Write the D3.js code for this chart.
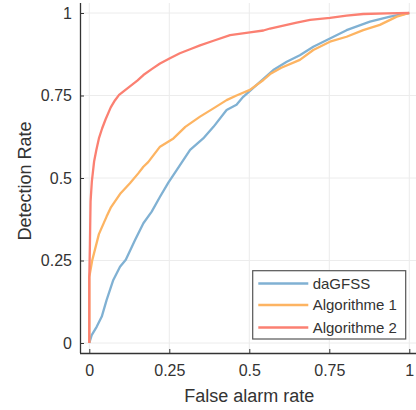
<!DOCTYPE html>
<html>
<head>
<meta charset="utf-8">
<script src="https://cdn.jsdelivr.net/npm/d3@7"></script>
<style>
  html, body { margin: 0; padding: 0; background: #fff; }
  svg { display: block; }
  text { font-family: "Liberation Sans", Arial, Helvetica, sans-serif; fill: #333; }
</style>
</head>
<body>
<svg id="chart" width="416" height="410"></svg>
<script>
const seriesNames = ["daGFSS", "Algorithme 1", "Algorithme 2"];
const seriesColors = ["#80b1d3", "#fdb462", "#fb8072"];

const dagfssFpr = [0, 0.0075, 0.023, 0.039, 0.054, 0.075, 0.096, 0.114, 0.143, 0.169, 0.195, 0.221, 0.247, 0.273, 0.315, 0.356, 0.388, 0.429, 0.46, 0.481, 0.523, 0.575, 0.617, 0.658, 0.7, 0.752, 0.804, 0.877, 0.94, 1];
const dagfssTpr = [0, 0.024, 0.049, 0.08, 0.13, 0.191, 0.231, 0.252, 0.312, 0.363, 0.398, 0.443, 0.486, 0.524, 0.585, 0.62, 0.655, 0.706, 0.722, 0.746, 0.782, 0.827, 0.852, 0.872, 0.898, 0.923, 0.948, 0.974, 0.989, 1];

const alg1Fpr = [0, 0, 0.009, 0.03, 0.054, 0.067, 0.098, 0.127, 0.153, 0.169, 0.184, 0.221, 0.263, 0.3, 0.346, 0.388, 0.429, 0.46, 0.502, 0.544, 0.565, 0.6, 0.658, 0.7, 0.752, 0.804, 0.856, 0.908, 0.961, 1];
const alg1Tpr = [0, 0.2, 0.25, 0.33, 0.383, 0.41, 0.454, 0.484, 0.514, 0.534, 0.548, 0.595, 0.62, 0.655, 0.686, 0.711, 0.736, 0.75, 0.767, 0.797, 0.815, 0.834, 0.858, 0.888, 0.913, 0.928, 0.948, 0.964, 0.989, 1];

const alg2Fpr = [0, 0, 0.002, 0.003, 0.004, 0.008, 0.015, 0.022, 0.03, 0.04, 0.051, 0.067, 0.08, 0.093, 0.11, 0.129, 0.15, 0.169, 0.195, 0.221, 0.252, 0.283, 0.315, 0.346, 0.388, 0.44, 0.502, 0.544, 0.565, 0.648, 0.69, 0.752, 0.804, 0.856, 0.93, 1];
const alg2Tpr = [0, 0.2, 0.3, 0.37, 0.43, 0.49, 0.55, 0.585, 0.62, 0.65, 0.678, 0.714, 0.735, 0.752, 0.765, 0.779, 0.795, 0.812, 0.83, 0.847, 0.863, 0.878, 0.89, 0.902, 0.916, 0.933, 0.941, 0.947, 0.953, 0.971, 0.979, 0.985, 0.992, 0.997, 0.999, 1];

const xTicks = [0, 0.25, 0.5, 0.75, 1];
const xTickLabels = ["0", "0.25", "0.5", "0.75", "1"];
const yTicks = [0, 0.25, 0.5, 0.75, 1];
const yTickLabels = ["0", "0.25", "0.5", "0.75", "1"];
const xTitle = "False alarm rate";
const yTitle = "Detection Rate";

const series = [
  { name: seriesNames[0], color: seriesColors[0], fpr: dagfssFpr, tpr: dagfssTpr },
  { name: seriesNames[1], color: seriesColors[1], fpr: alg1Fpr, tpr: alg1Tpr },
  { name: seriesNames[2], color: seriesColors[2], fpr: alg2Fpr, tpr: alg2Tpr }
];

const svg = d3.select("#chart");
const axisLeftX = 80, axisBottomY = 353, plotTop = 3, plotRight = 416;
const x = d3.scaleLinear().domain([0, 1]).range([89.3, 409.3]);
const y = d3.scaleLinear().domain([0, 1]).range([343, 13]);

// grid
const grid = svg.append("g");
grid.selectAll("line.vx").data(xTicks).join("line")
  .attr("x1", d => x(d)).attr("x2", d => x(d))
  .attr("y1", plotTop).attr("y2", axisBottomY)
  .attr("stroke", "#ececec").attr("stroke-width", 1);
grid.selectAll("line.hy").data(yTicks).join("line")
  .attr("y1", d => y(d)).attr("y2", d => y(d))
  .attr("x1", axisLeftX).attr("x2", plotRight)
  .attr("stroke", "#ececec").attr("stroke-width", 1);

// lines
const line = d3.line().x(d => x(d[0])).y(d => y(d[1]));
series.forEach(s => {
  const pts = s.fpr.map((f, i) => [f, s.tpr[i]]);
  svg.append("path").datum(pts)
    .attr("d", line)
    .attr("fill", "none")
    .attr("stroke", s.color)
    .attr("stroke-width", 2.3)
    .attr("stroke-linejoin", "round");
});

// axes
const xAxis = d3.axisBottom(x).tickValues(xTicks).tickFormat((d, i) => xTickLabels[i]).tickSizeInner(-4).tickSizeOuter(0).tickPadding(12);
const gx = svg.append("g").attr("transform", `translate(0,${axisBottomY})`).call(xAxis);
gx.select(".domain").attr("d", `M${axisLeftX},0.5H${plotRight}`).attr("stroke", "#333").attr("stroke-width", 1.3);
gx.selectAll(".tick line").attr("stroke", "#333");
gx.selectAll(".tick text").attr("font-size", 16).attr("fill", "#333").style("font-family", "Liberation Sans, Arial, sans-serif");

const yAxis = d3.axisLeft(y).tickValues(yTicks).tickFormat((d, i) => yTickLabels[i]).tickSizeInner(-4).tickSizeOuter(0).tickPadding(8);
const gy = svg.append("g").attr("transform", `translate(${axisLeftX},0)`).call(yAxis);
gy.select(".domain").attr("d", `M0.5,${plotTop}V${axisBottomY}`).attr("stroke", "#333").attr("stroke-width", 1.3);
gy.selectAll(".tick line").attr("stroke", "#333");
gy.selectAll(".tick text").attr("font-size", 16).attr("fill", "#333").style("font-family", "Liberation Sans, Arial, sans-serif");

// titles
svg.append("text").attr("x", 249.3).attr("y", 402).attr("text-anchor", "middle")
  .attr("font-size", 18).text(xTitle);
svg.append("text").attr("transform", "translate(31,181) rotate(-90)").attr("text-anchor", "middle")
  .attr("font-size", 18).text(yTitle);

// legend
const lg = svg.append("g");
lg.append("rect").attr("x", 252.7).attr("y", 270.7).attr("width", 153).attr("height", 68.3)
  .attr("fill", "#fff").attr("stroke", "#555").attr("stroke-width", 1.2);
const rowsY = [283.5, 305, 327.5];
series.forEach((s, i) => {
  lg.append("line").attr("x1", 258.3).attr("x2", 308.3).attr("y1", rowsY[i]).attr("y2", rowsY[i])
    .attr("stroke", s.color).attr("stroke-width", 2.3);
  lg.append("text").attr("x", 312.7).attr("y", rowsY[i]).attr("dy", "0.35em")
    .attr("font-size", 15).text(s.name);
});
</script>
</body>
</html>
